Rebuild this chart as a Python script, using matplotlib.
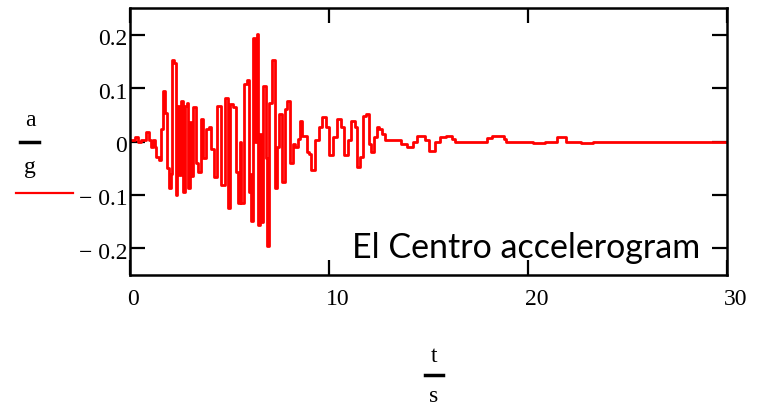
import numpy as np
import matplotlib
matplotlib.use('Agg')
import matplotlib.pyplot as plt
from matplotlib.lines import Line2D
import matplotlib.transforms as mtransforms

# El Centro record (time in s, a/g)
t = [0.0, 0.23, 0.32, 0.45, 0.7, 0.9, 1.0, 1.1, 1.2, 1.28, 1.37, 1.5, 1.58, 1.7, 1.8,
     1.9, 2.0, 2.08, 2.16, 2.25, 2.33, 2.41, 2.5, 2.58, 2.71, 2.8, 2.9, 2.95, 3.05,
     3.11, 3.25, 3.38, 3.5, 3.61, 3.75, 3.92, 4.0, 4.12, 4.28, 4.5, 4.69, 4.84, 4.97,
     5.12, 5.25, 5.37, 5.49, 5.56, 5.62, 5.79, 5.94, 6.01, 6.06, 6.15, 6.25, 6.32,
     6.4, 6.5, 6.57, 6.62, 6.77, 6.85, 6.93, 7.04, 7.19, 7.34, 7.45, 7.55, 7.69,
     7.84, 7.97, 8.11, 8.24, 8.36, 8.48, 8.58, 8.71, 8.82, 8.95, 9.03, 9.19, 9.44,
     9.55, 9.78, 9.9, 10.11, 10.28, 10.5, 10.7, 10.85, 11.05, 11.2, 11.37, 11.48,
     11.62, 11.8, 11.96, 12.04, 12.2, 12.35, 12.45, 12.6, 12.72, 12.9, 13.5, 13.75,
     14.1, 14.3, 14.5, 14.7, 14.9, 15.2, 15.5, 15.7, 16.1, 16.3, 16.4, 17.3, 17.5,
     17.85, 18.0, 18.35, 18.7, 18.85, 18.9, 20.2, 20.3, 20.8, 20.9, 21.4, 21.5,
     21.85, 21.95, 22.65, 22.7, 23.2, 23.3, 30.0]
a = [0.002, 0.002, 0.008, -0.001, 0.002, 0.017, 0.002, -0.01, 0.002, -0.01, -0.029,
     -0.035, 0.023, 0.094, 0.054, -0.05, -0.088, -0.06, 0.153, 0.147, -0.1, 0.067,
     -0.063, 0.076, -0.094, 0.067, 0.073, -0.088, 0.036, -0.065, 0.064, -0.04,
     -0.057, 0.042, -0.03, 0.023, 0.027, -0.014, -0.066, 0.067, -0.081, 0.082,
     -0.125, 0.07, 0.064, -0.057, -0.115, 0.0, -0.115, 0.107, 0.116, -0.094,
     -0.06, -0.149, 0.193, 0.0, 0.202, -0.156, 0.014, -0.15, 0.104, -0.03, -0.196,
     0.073, 0.153, -0.088, -0.01, 0.051, -0.075, 0.06, 0.076, -0.04, -0.004,
     -0.01, 0.005, 0.039, 0.011, 0.011, -0.02, -0.023, -0.054, 0.002, 0.027,
     0.045, 0.027, -0.026, 0.008, 0.042, 0.027, -0.026, 0.002, 0.039, 0.027,
     -0.048, -0.029, 0.048, 0.051, -0.005, -0.02, 0.008, 0.027, 0.023, 0.014,
     0.002, 0.002, -0.004, -0.01, 0.0, 0.011, 0.011, 0.002, -0.017, 0.0, 0.008,
     0.011, 0.005, 0.0, 0.0, -0.001, -0.001, 0.007, 0.011, 0.011, 0.005, 0.0, 0.0,
     -0.003, -0.003, 0.0, 0.0, 0.008, 0.008, 0.0, 0.0, -0.002, -0.002, 0.0, 0.0]

xticks = [0, 10, 20, 30]
yticks = [-0.2, -0.1, 0, 0.1, 0.2]
ylabels = ['\u2212 0.2', '\u2212 0.1', '0', '0.1', '0.2']

W, H = 759, 409
fig = plt.figure(figsize=(W / 100, H / 100), dpi=100)
ax = fig.add_axes([130 / W, 1 - 275 / H, (727 - 130) / W, (275 - 8) / H])

ax.plot(t, a, color='red', lw=2.0, drawstyle='steps-mid')
ax.set_xlim(0, 30)
ax.set_ylim(-0.25, 0.25)

serif = 'Liberation Serif'
ax.set_xticks(xticks)
ax.set_xticklabels([str(v) for v in xticks], family=serif, fontsize=17)
ax.set_yticks(yticks)
ax.set_yticklabels(ylabels, family=serif, fontsize=17)
ax.tick_params(direction='in', length=11, width=1.6, top=True, right=True,
               colors='black')
ax.tick_params(axis='x', pad=10)
ax.tick_params(axis='y', pad=2)
for lab in ax.get_xticklabels():
    lab.set_ha('left')
    lab.set_transform(lab.get_transform() +
                      mtransforms.ScaledTranslation(-3 / 100, 0, fig.dpi_scale_trans))
for lab in ax.get_yticklabels():
    lab.set_va('center')
    lab.set_transform(lab.get_transform() +
                      mtransforms.ScaledTranslation(0, -5 / 100, fig.dpi_scale_trans))
for s in ax.spines.values():
    s.set_linewidth(1.8)

ax.text(0.955, 0.10, 'El Centro accelerogram', transform=ax.transAxes,
        ha='right', va='center', fontsize=24.5, family='Lato')

def fx(x):
    return x / W

def fy(y):
    return 1 - y / H

# a/g label with red trace marker
fig.text(fx(30), fy(121), 'a', family=serif, fontsize=17, ha='center', va='center')
fig.lines.append(Line2D([fx(20), fx(39)], [fy(142), fy(142)], color='black',
                        lw=2.5, transform=fig.transFigure))
fig.text(fx(30), fy(168), 'g', family=serif, fontsize=17, ha='center', va='center')
fig.lines.append(Line2D([fx(16), fx(73)], [fy(193), fy(193)], color='red',
                        lw=1.6, transform=fig.transFigure))

# t/s label
fig.text(fx(434), fy(357), 't', family=serif, fontsize=17, ha='center', va='center')
fig.lines.append(Line2D([fx(425), fx(443)], [fy(375), fy(375)], color='black',
                        lw=2.5, transform=fig.transFigure))
fig.text(fx(434), fy(396), 's', family=serif, fontsize=17, ha='center', va='center')

fig.savefig('out.png', dpi=100)
